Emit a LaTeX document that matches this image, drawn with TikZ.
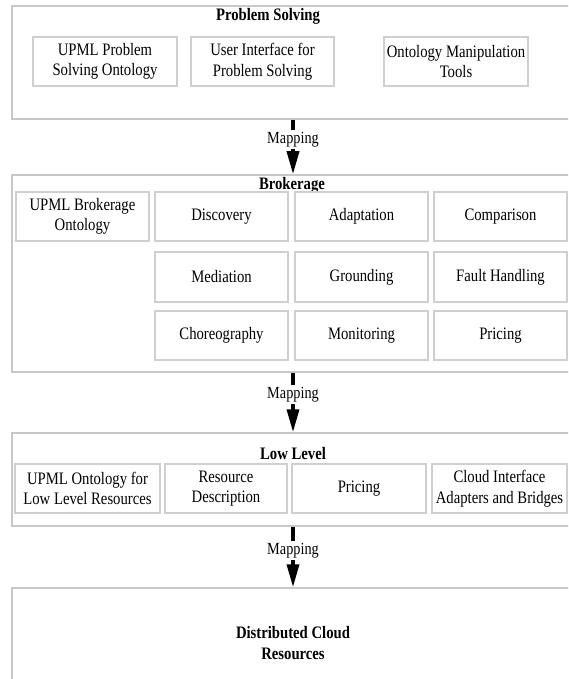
\documentclass[tikz,border=0pt]{standalone}
\usepackage{fontspec}
\setmainfont{Liberation Serif}[FakeStretch=0.84]
\usetikzlibrary{arrows.meta}
\definecolor{boxgray}{HTML}{CFCFCF}
\definecolor{outergray}{HTML}{C8C8C8}
\tikzset{
  outerbox/.style={draw=outergray, line width=1.5pt, inner sep=0pt},
  innerbox/.style={draw=boxgray, line width=1.2pt, align=center, inner sep=0pt,
    font=\fontsize{17.5}{20.5}\selectfont},
  titletext/.style={font=\fontsize{17.5}{20.5}\selectfont\bfseries, align=center, inner sep=0pt},
  maparrow/.style={line width=3.5pt, -{Triangle[length=23pt,width=12pt]}, shorten >=0pt},
  maplabel/.style={fill=white, inner sep=2pt, font=\fontsize{17}{20}\selectfont}
}
\begin{document}
\begin{tikzpicture}[x=1pt,y=-1pt]
\path[use as bounding box, clip] (0,0) rectangle (568,679);
\fill[white] (0,0) rectangle (568,679);
% Problem Solving layer
\node[outerbox, minimum width=568pt, minimum height=113pt] (ps) at (296,62.5) {};
\node[titletext] (pst) at (268,16) {Problem Solving};
\node[innerbox, minimum width=144pt, minimum height=49pt] (ps1) at (105,61.5) {UPML Problem\\Solving Ontology};
\node[innerbox, minimum width=143pt, minimum height=49pt] (ps2) at (262.5,61.5) {User Interface for\\Problem Solving};
\node[innerbox, minimum width=144pt, minimum height=49pt] (ps3) at (456,61.5) {Ontology Manipulation\\Tools};
% Brokerage layer
\node[outerbox, minimum width=568pt, minimum height=197pt] (br) at (296,273.5) {};
\node[titletext] (brt) at (292,185) {Brokerage};
\node[innerbox, minimum width=133pt, minimum height=49pt] (b1) at (82.5,216.5) {UPML Brokerage\\Ontology};
\node[innerbox, minimum width=133pt, minimum height=49pt] (b2) at (221.5,216.5) {Discovery};
\node[innerbox, minimum width=133pt, minimum height=49pt] (b3) at (361.5,216.5) {Adaptation};
\node[innerbox, minimum width=133pt, minimum height=49pt] (b4) at (500.5,216.5) {Comparison};
\node[innerbox, minimum width=133pt, minimum height=50pt] (b5) at (221.5,277) {Mediation};
\node[innerbox, minimum width=133pt, minimum height=50pt] (b6) at (361.5,277) {Grounding};
\node[innerbox, minimum width=133pt, minimum height=50pt] (b7) at (500.5,277) {Fault Handling};
\node[innerbox, minimum width=133pt, minimum height=49pt] (b8) at (221.5,335.5) {Choreography};
\node[innerbox, minimum width=133pt, minimum height=49pt] (b9) at (361.5,335.5) {Monitoring};
\node[innerbox, minimum width=133pt, minimum height=49pt] (b10) at (500.5,335.5) {Pricing};
% Low Level layer
\node[outerbox, minimum width=568pt, minimum height=93pt] (ll) at (296,479.5) {};
\node[titletext] (llt) at (293,454) {Low Level};
\node[innerbox, minimum width=145pt, minimum height=49pt] (l1) at (87.5,488.5) {UPML Ontology for\\Low Level Resources};
\node[innerbox, minimum width=122pt, minimum height=49pt] (l2) at (226,488.5) {Resource\\Description};
\node[innerbox, minimum width=134pt, minimum height=49pt] (l3) at (359,488.5) {Pricing};
\node[innerbox, minimum width=135pt, minimum height=49pt] (l4) at (499.5,488.5) {Cloud Interface\\Adapters and Bridges};
% Distributed Cloud Resources layer
\node[outerbox, minimum width=568pt, minimum height=112pt] (dc) at (296,644) {};
\node[titletext] (dct) at (293,643) {Distributed Cloud\\Resources};
% Mapping arrows
\coordinate (ax) at (293,0);
\draw[maparrow] (ax |- ps.south) -- (ax |- br.north) node[maplabel, pos=0.37] (m1) {Mapping};
\draw[maparrow] (ax |- br.south) -- (ax |- ll.north) node[maplabel, pos=0.37] (m2) {Mapping};
\draw[maparrow] (ax |- ll.south) -- (ax |- dc.north) node[maplabel, pos=0.40] (m3) {Mapping};
\end{tikzpicture}
\end{document}
